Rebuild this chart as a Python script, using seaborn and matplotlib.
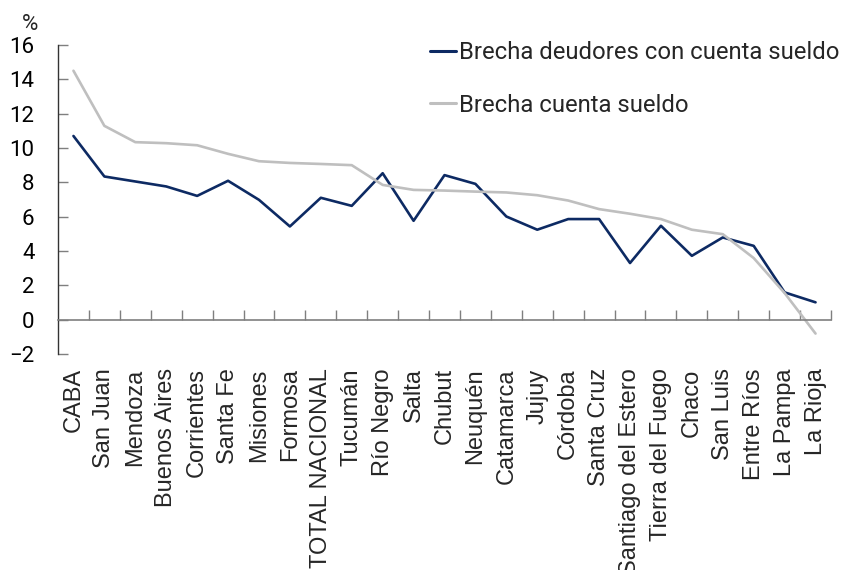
import numpy as np
import pandas as pd
import matplotlib
matplotlib.use("Agg")
import matplotlib.pyplot as plt
import seaborn as sns

# Datos (%)
regiones = ["CABA", "San Juan", "Mendoza", "Buenos Aires", "Corrientes", "Santa Fe",
            "Misiones", "Formosa", "TOTAL NACIONAL", "Tucumán", "Río Negro", "Salta",
            "Chubut", "Neuquén", "Catamarca", "Jujuy", "Córdoba", "Santa Cruz",
            "Santiago del Estero", "Tierra del Fuego", "Chaco", "San Luis",
            "Entre Ríos", "La Pampa", "La Rioja"]
brecha_deudores = [10.7, 8.34, 8.05, 7.76, 7.21, 8.09, 6.98, 5.43, 7.10, 6.63, 8.53, 5.76,
                   8.42, 7.91, 6.01, 5.24, 5.86, 5.86, 3.30, 5.47, 3.72, 4.79, 4.30, 1.59, 1.01]
brecha_cuenta = [14.5, 11.29, 10.34, 10.28, 10.16, 9.66, 9.23, 9.13, 9.07, 9.0, 7.85, 7.56,
                 7.52, 7.46, 7.41, 7.25, 6.94, 6.44, 6.17, 5.86, 5.24, 4.98, 3.59, 1.55, -0.81]
series = ["Brecha deudores con cuenta sueldo", "Brecha cuenta sueldo"]
colores = ["#0d2a63", "#bfbfbf"]

pos = np.arange(len(regiones))
df = pd.concat([
    pd.DataFrame({"pos": pos, "valor": brecha_deudores, "serie": series[0]}),
    pd.DataFrame({"pos": pos, "valor": brecha_cuenta, "serie": series[1]}),
])

sns.set_style("white")
plt.rcParams["font.family"] = ["Roboto", "DejaVu Sans"]

fig = plt.figure(figsize=(8.45, 5.7), dpi=100)
ax = fig.add_axes([58 / 845, 1 - 354 / 570, (831 - 58) / 845, (354 - 45) / 570])

sns.lineplot(data=df, x="pos", y="valor", hue="serie", palette=colores,
             hue_order=series, sort=False, linewidth=1.9, ax=ax)

ax.set_xlim(-0.5, len(regiones) - 0.5)
ax.set_ylim(-2, 16)
ax.set_yticks(np.arange(-2, 17, 2))
ax.set_xlabel("")
ax.set_ylabel("")

for s in ["top", "right"]:
    ax.spines[s].set_visible(False)
ax.spines["left"].set_color("#333333")
ax.spines["left"].set_linewidth(1.0)
ax.spines["bottom"].set_position(("data", 0))
ax.spines["bottom"].set_color("#7f7f7f")
ax.spines["bottom"].set_linewidth(1.2)

ax.tick_params(axis="y", direction="in", length=7, color="#7f7f7f", width=1,
               pad=17, labelsize=16, labelcolor="black", left=True)
ax.set_xticks(pos)
ax.set_xticklabels(regiones, rotation=90, ha="center", va="top",
                   fontsize=17, family="Liberation Sans")
ax.tick_params(axis="x", which="major", length=0, pad=35)
ax.set_xticks(np.arange(0.5, len(regiones), 1), minor=True)
ax.tick_params(axis="x", which="minor", direction="in", length=7, color="#7f7f7f",
               width=1, bottom=True)

leg = ax.legend(loc="upper left", bbox_to_anchor=(430 / 845, 1 - 41 / 570),
                bbox_transform=fig.transFigure, frameon=False, fontsize=17.2,
                handlelength=1.1, handletextpad=0.12, labelspacing=1.25,
                borderaxespad=0, borderpad=0)
for line in leg.get_lines():
    line.set_linewidth(2.2)

fig.text(30 / 845, 1 - 24 / 570, "%", fontsize=16, ha="center", va="center")

fig.savefig("out.png", dpi=100)
